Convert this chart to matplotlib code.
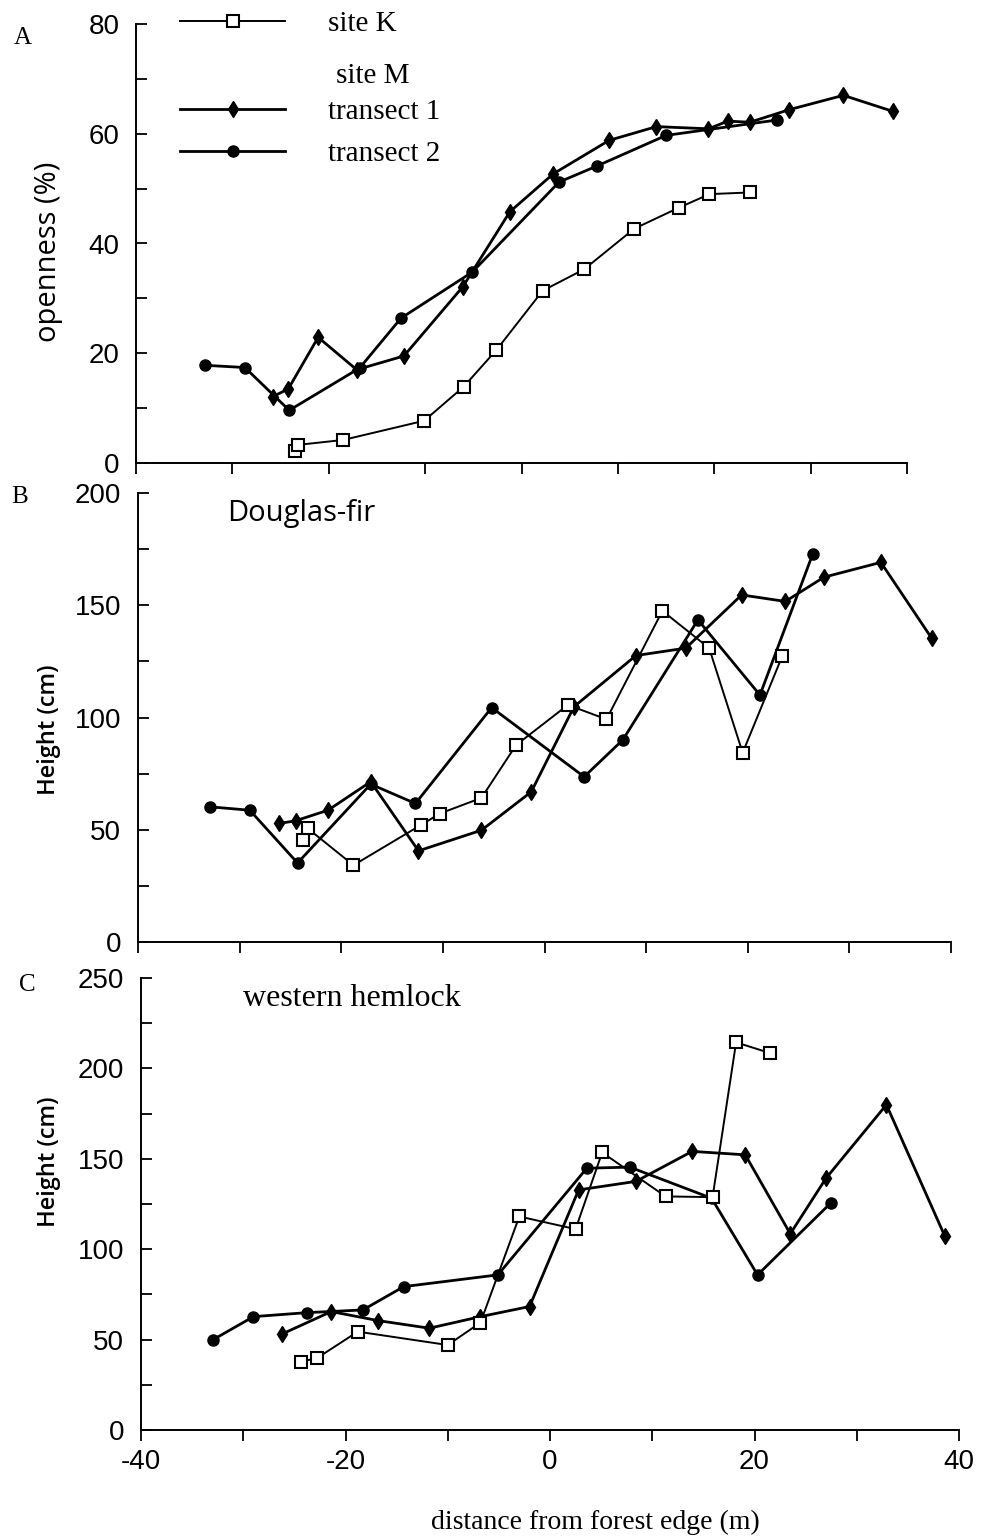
import numpy as np
import matplotlib
matplotlib.use('Agg')
from matplotlib import pyplot as plt
from matplotlib.ticker import MultipleLocator

# panel A - openness (%)
open_k_x = [-23.5, -23.2, -18.5, -10.1, -6.0, -2.6, 2.2, 6.5, 11.7, 16.3, 19.5, 23.7]
open_k_y = [2.1, 3.3, 4.2, 7.7, 13.9, 20.6, 31.4, 35.3, 42.7, 46.5, 49.0, 49.3]
open_t1_x = [-25.8, -24.2, -21.1, -17.1, -12.2, -6.1, -1.2, 3.3, 9.1, 14.0, 19.4, 21.4, 23.7, 27.8, 33.4, 38.5]
open_t1_y = [12.1, 13.5, 22.9, 17.0, 19.5, 32.1, 45.8, 52.7, 58.8, 61.3, 60.9, 62.3, 62.1, 64.4, 67.0, 64.1]
open_t2_x = [-32.8, -28.7, -24.1, -16.8, -12.5, -5.1, 3.9, 7.8, 15.0, 26.5]
open_t2_y = [17.8, 17.4, 9.6, 17.3, 26.4, 34.8, 51.2, 54.1, 59.7, 62.5]

# panel B - Douglas-fir height (cm)
df_k_x = [-23.8, -23.3, -18.8, -12.2, -10.3, -6.2, -2.8, 2.3, 6.1, 11.6, 16.2, 19.5, 23.4]
df_k_y = [45.4, 50.6, 34.2, 52.0, 57.2, 64.2, 87.7, 105.6, 99.2, 147.5, 130.9, 84.3, 127.4]
df_t1_x = [-26.1, -24.5, -21.3, -17.1, -12.4, -6.2, -1.3, 2.9, 9.0, 13.9, 19.4, 23.7, 27.5, 33.1, 38.1]
df_t1_y = [52.8, 54.0, 58.7, 71.4, 40.6, 49.8, 66.9, 104.8, 127.6, 130.9, 154.6, 151.7, 162.5, 169.1, 135.3]
df_t2_x = [-32.9, -29.0, -24.3, -17.1, -12.7, -5.2, 3.9, 7.7, 15.1, 21.2, 26.4]
df_t2_y = [60.2, 58.7, 35.2, 70.3, 61.7, 104.4, 73.6, 90.0, 143.5, 110.0, 172.9]

# panel C - western hemlock height (cm)
wh_k_x = [-24.4, -22.8, -18.8, -10.0, -6.8, -3.0, 2.5, 5.1, 11.3, 15.9, 18.2, 21.5]
wh_k_y = [37.8, 39.7, 54.4, 47.0, 59.4, 118.1, 111.1, 153.5, 129.2, 128.8, 214.4, 208.5]
wh_t1_x = [-26.2, -21.4, -16.8, -11.8, -6.8, -2.0, 2.8, 8.4, 13.9, 19.1, 23.5, 27.0, 32.9, 38.6]
wh_t1_y = [53.1, 65.5, 60.5, 56.3, 62.7, 68.3, 132.8, 137.5, 154.1, 152.2, 108.5, 139.3, 179.9, 107.4]
wh_t2_x = [-33.0, -29.0, -23.8, -18.3, -14.3, -5.1, 3.6, 7.8, 15.8, 20.3, 27.5]
wh_t2_y = [49.8, 62.7, 64.9, 66.4, 79.3, 85.8, 144.8, 145.4, 128.2, 85.8, 125.8]

plt.rcParams['font.family'] = ['Liberation Sans']
plt.rcParams['axes.unicode_minus'] = False

W, H = 984, 1540
fig = plt.figure(figsize=(W / 100, H / 100), dpi=100)

def px_axes(left, right, top, bottom):
    return fig.add_axes([left / W, 1 - bottom / H, (right - left) / W, (bottom - top) / H])

ax_a = px_axes(136, 907, 24, 463)
ax_b = px_axes(138, 951, 493, 942)
ax_c = px_axes(141, 959, 978, 1430)

serif = 'Liberation Serif'
label_font = 'Open Sans'

def draw(ax, kx, ky, t1x, t1y, t2x, t2y):
    l2, = ax.plot(t2x, t2y, color='black', lw=2.0, marker='o', ms=8, mfc='black', mec='black')
    l1, = ax.plot(t1x, t1y, color='black', lw=2.0, marker='d', ms=8.5, mfc='black', mec='black')
    lk, = ax.plot(kx, ky, color='black', lw=1.4, marker='s', ms=8.5, mfc='white', mec='black', mew=1.5)
    return lk, l1, l2

def style(ax, ymax, ymajor, yminor, xlabels):
    ax.set_xlim(-40, 40)
    ax.set_ylim(0, ymax)
    ax.spines['top'].set_visible(False)
    ax.spines['right'].set_visible(False)
    ax.spines['left'].set_linewidth(1.4)
    ax.spines['bottom'].set_linewidth(1.4)
    ax.yaxis.set_major_locator(MultipleLocator(ymajor))
    ax.yaxis.set_minor_locator(MultipleLocator(yminor))
    ax.xaxis.set_major_locator(MultipleLocator(20))
    ax.xaxis.set_minor_locator(MultipleLocator(10))
    ax.tick_params(axis='y', which='both', direction='in', length=8, width=1.3, pad=12, labelsize=20)
    ax.tick_params(axis='x', which='both', direction='out', length=8, width=1.3, pad=6, labelsize=20,
                   labelbottom=xlabels)

lk, l1, l2 = draw(ax_a, open_k_x, open_k_y, open_t1_x, open_t1_y, open_t2_x, open_t2_y)
draw(ax_b, df_k_x, df_k_y, df_t1_x, df_t1_y, df_t2_x, df_t2_y)
draw(ax_c, wh_k_x, wh_k_y, wh_t1_x, wh_t1_y, wh_t2_x, wh_t2_y)

style(ax_a, 80, 20, 10, False)
style(ax_b, 200, 50, 25, False)
style(ax_c, 250, 50, 25, True)

# axis labels
ax_a.set_ylabel('openness (%)', family=label_font, fontsize=21)
ax_a.yaxis.set_label_coords((63 - 136) / 771, (463 - 252) / 439)
ax_b.set_ylabel('Height (cm)', family=label_font, fontsize=17, fontweight='semibold')
ax_b.yaxis.set_label_coords((61 - 138) / 813, (942 - 730) / 449)
ax_c.set_ylabel('Height (cm)', family=label_font, fontsize=17, fontweight='semibold')
ax_c.yaxis.set_label_coords((61 - 141) / 818, (1430 - 1162) / 452)
ax_c.set_xlabel('distance from forest edge (m)', family=serif, fontsize=20)
ax_c.xaxis.set_label_coords((595 - 141) / 818, (1430 - 1510) / 452)

# panel letters and species names
fig.text(23 / W, 1 - 38 / H, 'A', family=serif, fontsize=18, ha='center', va='center')
fig.text(20 / W, 1 - 497 / H, 'B', family=serif, fontsize=18, ha='center', va='center')
fig.text(27 / W, 1 - 985 / H, 'C', family=serif, fontsize=18, ha='center', va='center')
fig.text(227 / W, 1 - 514 / H, 'Douglas-fir', family=label_font, fontsize=21, ha='left', va='center')
fig.text(243 / W, 1 - 999 / H, 'western hemlock', family=serif, fontsize=23, ha='left', va='center')

# legend
leg_kw = dict(loc='upper left', frameon=False, prop={'family': serif, 'size': 21},
              handlelength=3.6, handletextpad=1.47, borderpad=0, borderaxespad=0,
              labelspacing=0.52, numpoints=1, bbox_transform=fig.transFigure)
leg1 = ax_a.legend([lk], ['site K'], bbox_to_anchor=(180 / W, 1 - 11 / H), **leg_kw)
ax_a.add_artist(leg1)
ax_a.legend([l1, l2], ['transect 1', 'transect 2'], bbox_to_anchor=(180 / W, 1 - 99 / H), **leg_kw)
fig.text(336 / W, 1 - 76 / H, 'site M', family=serif, fontsize=21, ha='left', va='center')

fig.savefig('out.png', dpi=100)
